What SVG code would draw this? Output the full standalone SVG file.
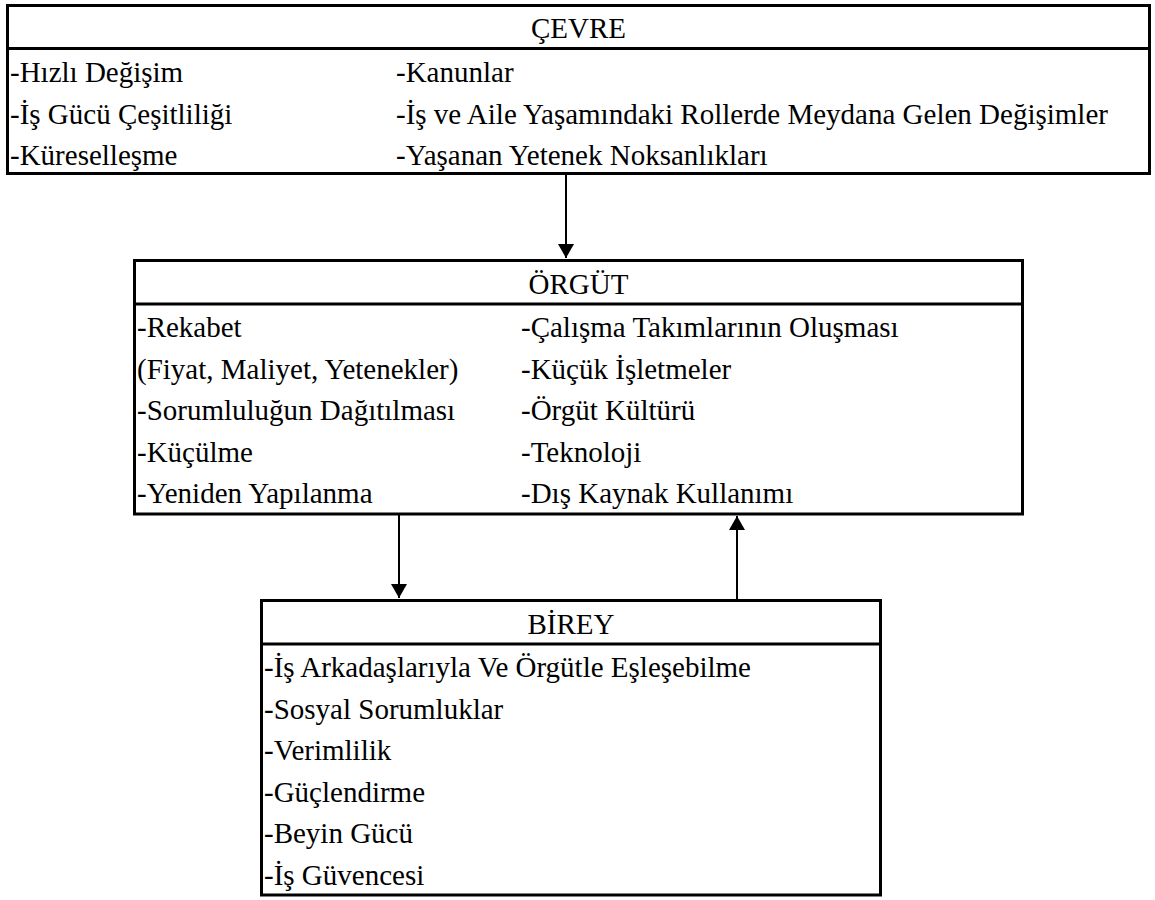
<svg xmlns="http://www.w3.org/2000/svg" width="1155" height="900" viewBox="0 0 1155 900">
<defs>
<style>
.box{fill:#fff;stroke:#000;stroke-width:3}
.sep{stroke:#000;stroke-width:3}
text{font-family:'Liberation Serif','Times New Roman',serif;font-size:29px;fill:#000}
.h{text-anchor:middle}
.con{stroke:#000;stroke-width:2;fill:none}
</style>
<marker id="ah" viewBox="0 0 14 16" refX="14" refY="8" markerWidth="14" markerHeight="16" markerUnits="userSpaceOnUse" orient="auto">
<path d="M0,0 L14,8 L0,16 Z" fill="#000"/>
</marker>
</defs>
<rect width="1155" height="900" fill="#fff"/>
<g id="cevre">
<rect class="box" x="7.5" y="5.5" width="1142" height="168"/>
<line class="sep" x1="7.5" y1="48.5" x2="1149.5" y2="48.5"/>
<text class="h" x="578.5" y="38">ÇEVRE</text>
<text x="10" y="82">-Hızlı Değişim</text>
<text x="10" y="123.5">-İş Gücü Çeşitliliği</text>
<text x="10" y="165">-Küreselleşme</text>
<text x="396" y="82">-Kanunlar</text>
<text x="396" y="123.5">-İş ve Aile Yaşamındaki Rollerde Meydana Gelen Değişimler</text>
<text x="396" y="165">-Yaşanan Yetenek Noksanlıkları</text>
</g>
<g id="orgut">
<rect class="box" x="134.5" y="260.5" width="888" height="253.5"/>
<line class="sep" x1="134.5" y1="304" x2="1022.5" y2="304"/>
<text class="h" x="578.5" y="293.5">ÖRGÜT</text>
<text x="137" y="337">-Rekabet</text>
<text x="137" y="378.5">(Fiyat, Maliyet, Yetenekler)</text>
<text x="137" y="420">-Sorumluluğun Dağıtılması</text>
<text x="137" y="461.5">-Küçülme</text>
<text x="137" y="503">-Yeniden Yapılanma</text>
<text x="521" y="337">-Çalışma Takımlarının Oluşması</text>
<text x="521" y="378.5">-Küçük İşletmeler</text>
<text x="521" y="420">-Örgüt Kültürü</text>
<text x="521" y="461.5">-Teknoloji</text>
<text x="521" y="503">-Dış Kaynak Kullanımı</text>
</g>
<g id="birey">
<rect class="box" x="261.5" y="600.5" width="619" height="294.5"/>
<line class="sep" x1="261.5" y1="644" x2="880.5" y2="644"/>
<text class="h" x="571" y="633.5">BİREY</text>
<text x="264" y="677">-İş Arkadaşlarıyla Ve Örgütle Eşleşebilme</text>
<text x="264" y="718.5">-Sosyal Sorumluklar</text>
<text x="264" y="760">-Verimlilik</text>
<text x="264" y="801.5">-Güçlendirme</text>
<text x="264" y="843">-Beyin Gücü</text>
<text x="264" y="884.5">-İş Güvencesi</text>
</g>
<g id="connectors">
<line class="con" x1="566" y1="175" x2="566" y2="258" marker-end="url(#ah)"/>
<line class="con" x1="399" y1="515" x2="399" y2="598" marker-end="url(#ah)"/>
<line class="con" x1="737" y1="599" x2="737" y2="516" marker-end="url(#ah)"/>
</g>
</svg>
